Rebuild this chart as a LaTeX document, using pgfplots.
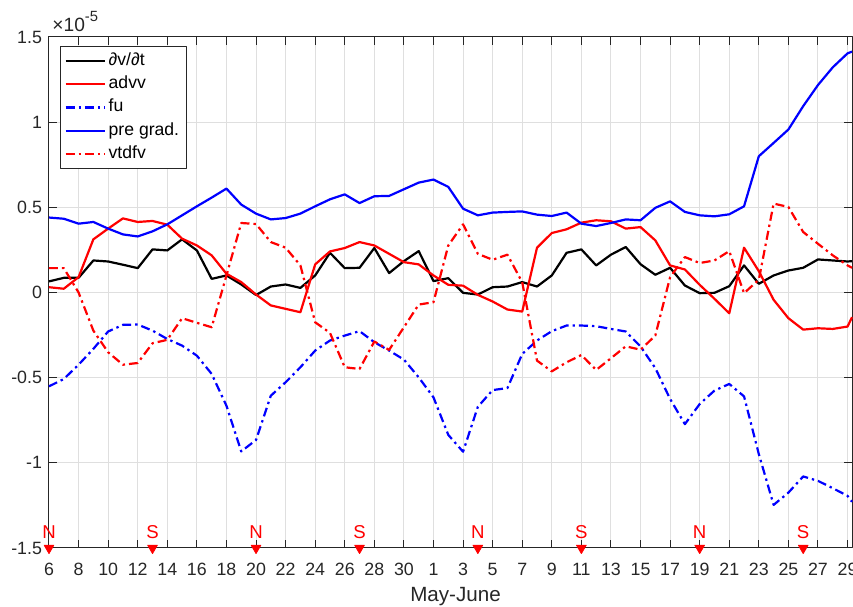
\documentclass[border=0pt]{standalone}
\usepackage{fontspec}
\setmainfont{Liberation Sans}
\usepackage{pgfplots}
\usepackage{pgfplotstable}
\pgfplotsset{compat=1.18}
\definecolor{axgray}{RGB}{38,38,38}
\definecolor{gridgray}{RGB}{223,223,223}
\definecolor{mred}{RGB}{255,0,0}
\definecolor{mblue}{RGB}{0,0,255}
\tikzset{mdashdot/.style={dash pattern=on 4.5pt off 2pt on 1.2pt off 2pt}}

\pgfplotstableread{
d dvdt advv fu pgrad vtdfv
6 0.065 0.031 -0.551 0.44 0.143
7 0.086 0.022 -0.508 0.433 0.143
8 0.086 0.09 -0.424 0.404 0.0
9 0.188 0.312 -0.331 0.414 -0.224
10 0.182 0.375 -0.229 0.375 -0.351
11 0.163 0.435 -0.19 0.341 -0.424
12 0.143 0.414 -0.188 0.329 -0.414
13 0.253 0.42 -0.224 0.359 -0.298
14 0.247 0.398 -0.273 0.40 -0.278
15 0.312 0.316 -0.312 0.453 -0.151
16 0.247 0.276 -0.371 0.506 -0.178
17 0.08 0.218 -0.478 0.557 -0.204
18 0.10 0.11 -0.665 0.61 0.10
19 0.047 0.061 -0.933 0.516 0.408
20 -0.015 -0.012 -0.866 0.463 0.402
21 0.035 -0.076 -0.606 0.429 0.296
22 0.047 -0.096 -0.527 0.437 0.263
23 0.027 -0.116 -0.439 0.463 0.159
24 0.10 0.165 -0.341 0.506 -0.175
25 0.233 0.241 -0.282 0.547 -0.237
26 0.143 0.261 -0.253 0.576 -0.439
27 0.145 0.296 -0.227 0.525 -0.449
28 0.261 0.276 -0.292 0.565 -0.288
29 0.114 0.227 -0.341 0.567 -0.337
30 0.184 0.178 -0.394 0.606 -0.204
31 0.243 0.165 -0.498 0.645 -0.071
32 0.067 0.10 -0.616 0.663 -0.057
33 0.084 0.045 -0.836 0.62 0.276
34 -0.002 0.04 -0.935 0.492 0.40
35 -0.012 -0.014 -0.671 0.453 0.227
36 0.031 -0.053 -0.573 0.469 0.192
37 0.035 -0.10 -0.561 0.473 0.222
38 0.061 -0.112 -0.361 0.476 0.06
39 0.035 0.263 -0.282 0.457 -0.40
40 0.10 0.349 -0.227 0.449 -0.463
41 0.233 0.371 -0.194 0.469 -0.41
42 0.253 0.41 -0.194 0.404 -0.367
43 0.159 0.424 -0.198 0.39 -0.455
44 0.222 0.418 -0.214 0.408 -0.386
45 0.267 0.375 -0.229 0.429 -0.316
46 0.166 0.384 -0.317 0.424 -0.336
47 0.104 0.306 -0.444 0.497 -0.253
48 0.145 0.159 -0.625 0.535 0.09
49 0.041 0.135 -0.773 0.473 0.208
50 -0.004 0.045 -0.655 0.453 0.173
51 -0.002 -0.037 -0.576 0.447 0.188
52 0.037 -0.122 -0.537 0.459 0.243
53 0.159 0.263 -0.61 0.506 -0.004
54 0.051 0.125 -0.949 0.80 0.075
55 0.10 -0.043 -1.247 0.878 0.522
56 0.129 -0.151 -1.175 0.957 0.502
57 0.145 -0.218 -1.08 1.094 0.355
58 0.194 -0.21 -1.106 1.218 0.286
59 0.188 -0.214 -1.149 1.322 0.218
60 0.182 -0.20 -1.194 1.404 0.159
60.3 0.184 -0.145 -1.229 1.414 0.145
}\data

\begin{document}
\begin{tikzpicture}
\begin{axis}[
  scale only axis, width=401.5pt, height=255.5pt,
  xmin=6, xmax=60.3, ymin=-1.5, ymax=1.5,
  xtick={6,8,...,60},
  xticklabels={6,8,10,12,14,16,18,20,22,24,26,28,30,1,3,5,7,9,11,13,15,17,19,21,23,25,27,29},
  ytick={-1.5,-1,-0.5,0,0.5,1,1.5},
  yticklabels={-1.5,-1,-0.5,0,0.5,1,1.5},
  tick align=inside, major tick length=4pt,
  grid=major, major grid style={gridgray, line width=0.5pt},
  axis line style={axgray, line width=0.5pt},
  tick style={axgray, line width=0.5pt},
  tick label style={font=\fontsize{8.9}{10}\selectfont, text=axgray},
  xticklabel style={yshift=-4pt},
  xlabel={May-June},
  xlabel style={font=\fontsize{10.3}{11}\selectfont, text=axgray, at={(axis description cs:0.5,0)}, anchor=base, yshift=-27pt, xshift=2.5pt},
  clip=false,
  legend style={at={(0,1)}, anchor=north west, xshift=5.5pt, yshift=-4.5pt,
    draw=axgray, line width=0.5pt, fill=white,
    font=\fontsize{8.8}{10}\selectfont, text=black,
    inner xsep=2pt, inner ysep=1.5pt, row sep=0pt,
    nodes={inner sep=1.5pt, text height=6.5pt, text depth=2.1pt}},
  legend image code/.code={\draw[#1] (0pt,0pt) -- (19.5pt,0pt);},
  legend cell align=left,
  line join=round,
]
\addplot[black, line width=1.1pt] table[x=d, y=dvdt]{\data};
\addlegendentry{∂v/∂t}
\addplot[mred, line width=1.1pt] table[x=d, y=advv]{\data};
\addlegendentry{advv}
\addplot[mblue, line width=1.1pt, mdashdot] table[x=d, y=fu]{\data};
\addlegendentry{fu}
\addplot[mblue, line width=1.1pt] table[x=d, y=pgrad]{\data};
\addlegendentry{pre grad.}
\addplot[mred, line width=1.1pt, mdashdot] table[x=d, y=vtdfv]{\data};
\addlegendentry{vtdfv}

\addplot[forget plot, only marks, mark=triangle*, mark size=2.8pt, color=mred,
  mark options={rotate=180, fill=mred, draw=mred, solid},
  point meta=explicit symbolic, nodes near coords,
  nodes near coords style={anchor=center, yshift=7.75pt, font=\fontsize{9.3}{10}\selectfont, text=mred, inner sep=0pt}]
  coordinates {(6,-1.5)[N] (13,-1.5)[S] (20,-1.5)[N] (27,-1.5)[S] (35,-1.5)[N] (42,-1.5)[S] (50,-1.5)[N] (57,-1.5)[S]};

\node[anchor=base west, inner sep=0pt, xshift=1.5pt, yshift=2.5pt, font=\fontsize{9.6}{10}\selectfont, text=axgray] at (rel axis cs:0,1) {×10\raisebox{5.3pt}{\fontsize{7.4}{8}\selectfont -5}};
\end{axis}
\pgfresetboundingbox
\path ([shift={(-24.5pt,-29.5pt)}]current axis.south west) rectangle ([shift={(0.5pt,18.5pt)}]current axis.north east);
\end{tikzpicture}
\end{document}
